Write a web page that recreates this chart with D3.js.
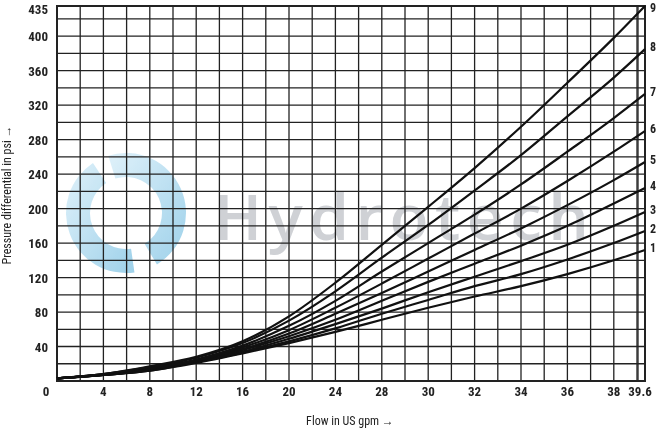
<!DOCTYPE html>
<html><head><meta charset="utf-8">
<script src="https://cdn.jsdelivr.net/npm/d3@7"></script>
<style>body{margin:0;background:#fff}svg{display:block}</style>
</head><body>
<svg id="c" width="658" height="429"></svg>
<script>
const flows = [0,4,8,12,16,20,24,28,30,32,34,36,38,39.6];
const xTickLabels = ["0","4","8","12","16","20","24","28","30","32","34","36","38","39.6"];
const yTicks = [40,80,120,160,200,240,280,320,360,400,435];
const curveNames = ["1","2","3","4","5","6","7","8","9"];
const c1 = [3,7,12,21,32,44,57,71,85,98,110,124,140,152];
const c2 = [3,7,12,22,33,46,61,78,94,110,124,141,160,174];
const c3 = [3,7,13,22,34,49,66,84,103,121,139,158,180,196];
const c4 = [3,7,13,23,36,52,71,93,115,136,157,180,206,224];
const c5 = [3,7,14,24,37,55,78,102,127,152,177,204,233,254];
const c6 = [3,7,14,24,39,59,85,113,142,171,200,232,266,290];
const c7 = [3,8,15,25,41,64,93,127,160,193,228,266,305,333];
const c8 = [3,8,16,27,44,70,104,143,181,221,262,307,352,385];
const c9 = [3,8,17,28,46,75,114,158,202,247,295,346,398,435];
const series = [c1,c2,c3,c4,c5,c6,c7,c8,c9];

const svg = d3.select("#c");
const L=57, R=645, T=6, B=381;
const x = d3.scaleLinear().domain(flows).range(flows.map((f,i)=> i<13 ? L+46.4*i : R));
const y = d3.scaleLinear().domain([0,435]).range([B,T]);

const wm = svg.append("g").attr("opacity",0.8);
const lg = svg.append("defs").append("linearGradient").attr("id","g1").attr("x1",0).attr("y1",0).attr("x2",1).attr("y2",1);
lg.append("stop").attr("offset",0).attr("stop-color","#d8eef9");
lg.append("stop").attr("offset",1).attr("stop-color","#86c6e5");
const arc = d3.arc();
wm.append("path").attr("transform","translate(126,213)")
  .attr("d",arc({innerRadius:36,outerRadius:60,startAngle:-0.3,endAngle:2.6})).attr("fill","url(#g1)");
wm.append("path").attr("transform","translate(126,213)")
  .attr("d",arc({innerRadius:36,outerRadius:60,startAngle:3.0,endAngle:5.7})).attr("fill","url(#g1)");
wm.append("text").attr("x",214).attr("y",240).attr("font-family","Open Sans, sans-serif").attr("font-weight",600)
  .attr("font-size",64).attr("textLength",375).attr("fill","#c3c6cb").text("Hydrotech");

const g = svg.append("g").attr("stroke","#222").attr("stroke-width",1.3);
for(let i=0;i<=25;i++){ const px=L+23.2*i; if(px<R) g.append("line").attr("x1",px).attr("x2",px).attr("y1",T).attr("y2",B); }
g.append("line").attr("x1",638).attr("x2",638).attr("y1",T).attr("y2",B);
for(let v=20; v<=420; v+=20) g.append("line").attr("x1",L).attr("x2",R).attr("y1",y(v)).attr("y2",y(v));
svg.append("rect").attr("x",L).attr("y",T).attr("width",R-L).attr("height",B-T)
  .attr("fill","none").attr("stroke","#222").attr("stroke-width",2);

const font="Roboto Condensed, Liberation Sans Narrow, Roboto, sans-serif";
svg.append("g").selectAll("text").data(flows).join("text")
  .attr("x",(d,i)=> i===0 ? 46 : (i===13 ? 640 : x(d))).attr("y",396)
  .attr("text-anchor","middle").attr("font-family",font).attr("font-weight","bold")
  .attr("font-size",13).attr("fill","#222").text((d,i)=>xTickLabels[i]);
svg.append("g").selectAll("text").data(yTicks).join("text")
  .attr("x",48).attr("y",d=>Math.max(y(d)+5,14)).attr("text-anchor","end").attr("font-family",font)
  .attr("font-weight","bold").attr("font-size",13).attr("fill","#222").text(d=>d);
svg.append("text").attr("x",350).attr("y",425).attr("text-anchor","middle").attr("font-family",font)
  .attr("font-size",12).attr("fill","#222").text("Flow in US gpm →");
svg.append("text").attr("transform","translate(11,195) rotate(-90)").attr("text-anchor","middle")
  .attr("font-family",font).attr("font-size",12).attr("fill","#222").text("Pressure differential in psi →");

const line = d3.line().x((d,i)=>x(flows[i])).y(d=>y(d)).curve(d3.curveMonotoneX);
svg.append("g").selectAll("path").data(series).join("path")
  .attr("d",line).attr("fill","none").attr("stroke","#111").attr("stroke-width",2.2);
svg.append("g").selectAll("text").data(series).join("text")
  .attr("x",650).attr("y",d=>Math.max(y(d[d.length-1])+2,12)).attr("font-family",font).attr("font-weight","bold")
  .attr("font-size",12).attr("fill","#222").text((d,i)=>curveNames[i]);
</script>
</body></html>
